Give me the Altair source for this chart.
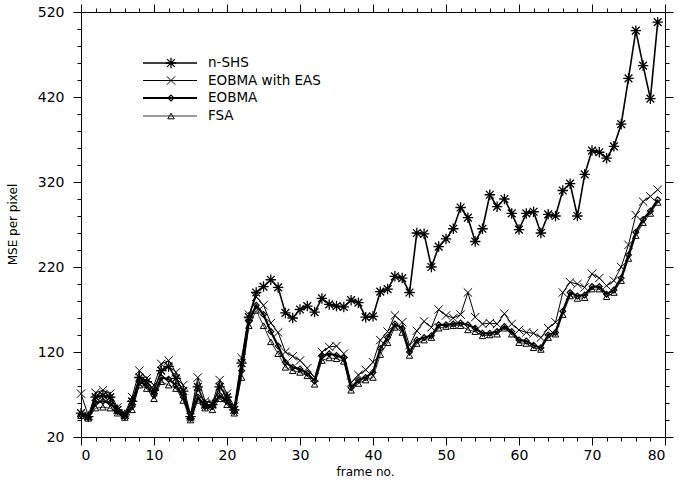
import altair as alt
import pandas as pd

# Mean squared error per pixel for each frame of the sequence
frames = list(range(80))

n_shs = [48, 44, 67, 69, 67, 52, 46, 62, 90, 85,
         75, 98, 103, 89, 74, 44, 79, 58, 58, 79,
         67, 52, 107, 161, 190, 197, 205, 196, 166, 160,
         170, 174, 167, 183, 176, 174, 173, 181, 178, 161,
         162, 191, 194, 209, 207, 190, 260, 259, 220, 244,
         253, 265, 290, 278, 250, 265, 305, 291, 300, 283,
         264, 283, 285, 260, 282, 280, 310, 318, 280, 329,
         357, 355, 348, 362, 388, 442, 498, 457, 418, 508]

eobma_eas = [71, 45, 72, 75, 71, 55, 48, 67, 98, 89,
             81, 106, 110, 96, 81, 46, 90, 62, 60, 87,
             71, 56, 113, 164, 185, 175, 154, 143, 120, 115,
             110, 101, 90, 120, 126, 127, 118, 84, 93, 99,
             108, 134, 144, 163, 155, 128, 145, 156, 149, 170,
             163, 160, 164, 190, 161, 153, 154, 153, 165, 153,
             146, 143, 142, 137, 148, 155, 190, 202, 200, 196,
             212, 207, 198, 204, 220, 246, 281, 297, 303, 311]

eobma = [46, 43, 60, 62, 60, 50, 44, 56, 85, 81,
         69, 90, 88, 81, 67, 42, 67, 56, 56, 69,
         62, 50, 98, 156, 175, 164, 144, 127, 108, 102,
         100, 95, 86, 115, 118, 116, 113, 78, 87, 90,
         96, 124, 137, 153, 148, 120, 134, 137, 139, 152,
         152, 153, 154, 152, 148, 142, 142, 144, 150, 144,
         134, 133, 128, 125, 140, 143, 168, 190, 186, 187,
         197, 197, 188, 193, 207, 234, 261, 276, 286, 299]

fsa = [45, 42, 54, 55, 54, 48, 43, 52, 81, 77,
       65, 85, 81, 77, 63, 40, 63, 54, 52, 65,
       58, 48, 90, 151, 169, 151, 132, 118, 102, 98,
       96, 92, 82, 110, 113, 112, 109, 75, 83, 87,
       90, 117, 131, 149, 143, 116, 130, 134, 137, 148,
       150, 151, 151, 146, 144, 139, 140, 141, 148, 141,
       131, 130, 125, 123, 137, 141, 164, 186, 183, 184,
       194, 194, 185, 190, 204, 230, 257, 272, 283, 296]

series_names = ["n-SHS", "EOBMA with EAS", "EOBMA", "FSA"]
series_values = [n_shs, eobma_eas, eobma, fsa]

x_ticks = list(range(0, 81, 2))
y_ticks = list(range(20, 521, 20))

# Marker paths in the unit box [-1, 1]
STAR = "M-1,-1L1,1M-1,1L1,-1M0,-1.35L0,1.35M-1.35,0L1.35,0"
SALTIRE = "M-1,-1L1,1M-1,1L1,-1"

styles = {
    "n-SHS": dict(line=1.6, shape=STAR, size=60, mw=1.3),
    "EOBMA with EAS": dict(line=1.0, shape=SALTIRE, size=70, mw=1.0),
    "EOBMA": dict(line=2.2, shape="diamond", size=34, mw=1.2),
    "FSA": dict(line=0.8, shape="triangle-up", size=42, mw=1.0),
}

FONT = "DejaVu Sans"
x_scale = alt.Scale(domain=[0, 80], nice=False, zero=False)
y_scale = alt.Scale(domain=[20, 520], nice=False, zero=False)

x_major = "datum.value % 10 === 0"
y_major = "(datum.value - 20) % 100 === 0"


def axis(orient, values, major, labels, title=None, pad=3, **kw):
    return alt.Axis(
        orient=orient,
        values=values,
        grid=False,
        labels=labels,
        labelExpr=f"{major} ? datum.label : ''",
        labelFont=FONT,
        labelFontSize=14,
        labelColor="black",
        labelPadding=pad,
        labelOverlap=False,
        tickColor="black",
        tickWidth=1,
        tickSize={"condition": {"test": major, "value": 8}, "value": 4},
        domainColor="black",
        domainWidth=1,
        title=title,
        titleFont=FONT,
        titleFontSize=12,
        titleFontWeight="normal",
        titleColor="black",
        **kw,
    )


x_axis = axis("bottom", x_ticks, x_major, True, "frame no.",
              titleX=284, titleY=34, titleBaseline="middle")
y_axis = axis("left", y_ticks, y_major, True, "MSE per pixel", pad=9,
              titleX=-69, titleY=212, titleAngle=270,
              titleBaseline="middle", titleAlign="center")
x_axis_top = axis("top", x_ticks, x_major, False)
y_axis_right = axis("right", y_ticks, y_major, False)

layers = []
for name, vals in zip(series_names, series_values):
    st = styles[name]
    df = pd.DataFrame({"frame": frames, "mse": vals})
    base = alt.Chart(df).encode(
        x=alt.X("frame:Q", scale=x_scale, axis=x_axis),
        y=alt.Y("mse:Q", scale=y_scale, axis=y_axis),
    )
    layers.append(base.mark_line(color="black", strokeWidth=st["line"]))
    layers.append(base.mark_point(shape=st["shape"], size=st["size"],
                                  filled=False, color="black",
                                  strokeWidth=st["mw"], opacity=1))

# Legend block in the upper left of the plot
legend_rows = [51, 68.5, 86, 104]
for name, row in zip(series_names, legend_rows):
    st = styles[name]
    ldf = pd.DataFrame({"label": [name]})
    lbase = alt.Chart(ldf)
    layers.append(lbase.mark_rule(color="black", strokeWidth=st["line"]).encode(
        x=alt.value(62), x2=alt.value(116), y=alt.value(row)))
    layers.append(lbase.mark_point(shape=st["shape"], size=st["size"],
                                   filled=False, color="black",
                                   strokeWidth=st["mw"], opacity=1).encode(
        x=alt.value(90), y=alt.value(row)))
    layers.append(lbase.mark_text(align="left", baseline="middle", font=FONT,
                                  fontSize=13.5, color="black").encode(
        x=alt.value(127), y=alt.value(row), text="label:N"))

data_layer = alt.layer(*layers)

# Mirror axes on the top and right edges
frame_df = pd.DataFrame({"frame": frames, "mse": n_shs})
mirror = alt.Chart(frame_df).mark_point(opacity=0).encode(
    x=alt.X("frame:Q", scale=x_scale, axis=x_axis_top),
    y=alt.Y("mse:Q", scale=y_scale, axis=y_axis_right),
)

chart = (
    alt.layer(data_layer, mirror)
    .resolve_axis(x="independent", y="independent")
    .properties(
        width=584,
        height=425,
        padding={"left": 81, "top": 12, "right": 14, "bottom": 43},
        autosize=alt.AutoSizeParams(type="none"),
        background="white",
    )
    .configure_view(stroke=None)
)

chart.save("out.html", embed_options={"renderer": "svg", "actions": False})
